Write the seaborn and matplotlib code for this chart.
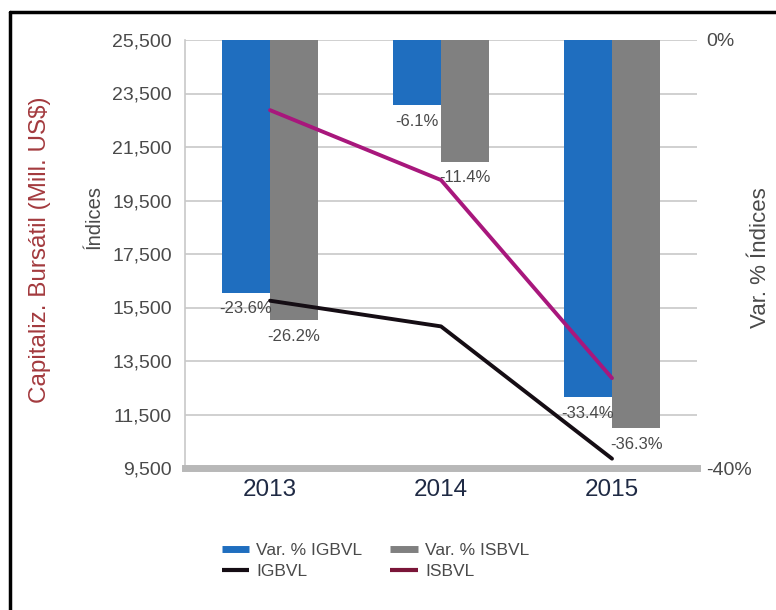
import matplotlib
matplotlib.use("Agg")
import matplotlib.pyplot as plt
from matplotlib.lines import Line2D
import seaborn as sns
import numpy as np
import pandas as pd

years = ["2013", "2014", "2015"]
var_igbvl = [-23.6, -6.1, -33.4]
var_isbvl = [-26.2, -11.4, -36.3]
igbvl = [15754, 14794, 9849]
isbvl = [22878, 20265, 12860]
left_ticks = [9500, 11500, 13500, 15500, 17500, 19500, 21500, 23500, 25500]
right_ticks = [-40, -35, -30, -25, -20, -15, -10, -5, 0]
right_labels = ["-40%", "", "", "", "", "", "", "", "0%"]

sns.set_theme(style="white")
plt.rcParams["font.family"] = ["Liberation Sans", "DejaVu Sans"]

BLUE = "#1f6ebf"
GRAY = "#808080"
BLACK = "#150d14"
MAGENTA = "#a8177c"
TXT = "#4a4a4a"

W, H = 776, 610
fig = plt.figure(figsize=(W / 100, H / 100), dpi=100)
fig.patch.set_facecolor("white")

x0, x1, y0, y1 = 184.5, 697.5, 40, 468
ax = fig.add_axes([x0 / W, 1 - y1 / H, (x1 - x0) / W, (y1 - y0) / H])

df = pd.DataFrame({
    "year": years * 2,
    "serie": ["Var. % IGBVL"] * 3 + ["Var. % ISBVL"] * 3,
    "value": var_igbvl + var_isbvl,
})
sns.barplot(data=df, x="year", y="value", hue="serie", palette=[BLUE, GRAY],
            width=0.565, ax=ax, legend=False, saturation=1, zorder=2,
            linewidth=0, edgecolor="none")
for c in ax.containers:
    ax.bar_label(c, labels=[f"{v:.1f}%" for v in c.datavalues], padding=6,
                 fontsize=12, color=TXT, zorder=3)

ax.set_ylim(-40, 0)
ax.set_xlim(-0.5, 2.5)
ax.set_yticks(right_ticks)
ax.set_yticklabels(right_labels)
ax.grid(axis="y", color="#c4c4c4", lw=1.1, zorder=0)
ax.set_axisbelow(True)
ax.tick_params(axis="x", length=0, pad=8, labelsize=17.5, labelcolor="#1f2a44")
ax.set_xlabel("")
ax.set_ylabel("")
for s in ["top", "right"]:
    ax.spines[s].set_visible(False)
ax.spines["left"].set_color("#c8c8c8")
ax.spines["left"].set_linewidth(1.2)
ax.spines["bottom"].set_color("#b8b8b8")
ax.spines["bottom"].set_linewidth(5)

ax2 = ax.twinx()
pos = np.arange(len(years))
sns.lineplot(x=pos, y=igbvl, color=BLACK, lw=2.8, ax=ax2)
sns.lineplot(x=pos, y=isbvl, color=MAGENTA, lw=2.8, ax=ax2)
ax2.set_ylim(9500, 25500)
ax2.set_yticks(left_ticks)
ax2.set_yticklabels([f"{t:,}" for t in left_ticks])
ax2.yaxis.tick_left()
ax2.tick_params(axis="y", length=0, pad=9, labelsize=14, labelcolor=TXT)
for s in ["top", "right", "left", "bottom"]:
    ax2.spines[s].set_visible(False)
ax2.grid(False)

# percentage axis on the right (after twinx, which resets sides)
ax.yaxis.tick_right()
ax.tick_params(axis="y", length=0, pad=6, labelsize=14, labelcolor=TXT,
               left=False, labelleft=False, right=False, labelright=True)

fig.text(40 / W, 1 - 250 / H, "Capitaliz. Bursátil (Mill. US$)", rotation=90,
         ha="center", va="center", fontsize=17.5, color="#a33a3e")
fig.text(94 / W, 1 - 217 / H, "Índices", rotation=90,
         ha="center", va="center", fontsize=14.5, color=TXT)
fig.text(761 / W, 1 - 258 / H, "Var. % Índices", rotation=90,
         ha="center", va="center", fontsize=16, color=TXT)

handles = [
    Line2D([], [], color=BLUE, lw=5, solid_capstyle="butt"),
    Line2D([], [], color=BLACK, lw=3, solid_capstyle="butt"),
    Line2D([], [], color=GRAY, lw=5, solid_capstyle="butt"),
    Line2D([], [], color="#7a1538", lw=3, solid_capstyle="butt"),
]
labels = ["Var. % IGBVL", "IGBVL", "Var. % ISBVL", "ISBVL"]
fig.legend(handles, labels, ncol=2, frameon=False, fontsize=12.5,
           labelcolor=TXT, loc="upper left",
           bbox_to_anchor=(206 / W, 1 - 527 / H), handlelength=1.6,
           handletextpad=0.4, columnspacing=1.6, labelspacing=0.35)

# border (left and top)
fig.add_artist(Line2D([10 / W, 10 / W], [0, 1 - 12 / H], color="black", lw=2.5,
                      transform=fig.transFigure))
fig.add_artist(Line2D([10 / W, 1], [1 - 12 / H, 1 - 12 / H], color="black", lw=2.5,
                      transform=fig.transFigure))

fig.savefig("out.png", dpi=100)
